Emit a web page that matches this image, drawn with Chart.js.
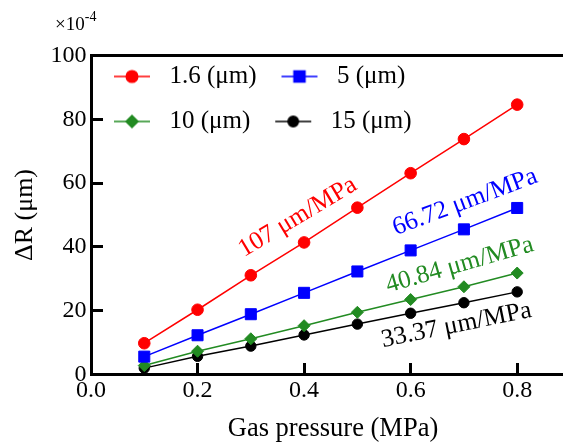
<!DOCTYPE html>
<html><head><meta charset="utf-8">
<script src="https://cdn.jsdelivr.net/npm/chart.js@4/dist/chart.umd.min.js"></script>
<style>html,body{margin:0;padding:0;background:#fff;overflow:hidden}#wrap{width:563px;height:442px;position:relative}canvas{display:block}</style>
</head><body><div id="wrap"><canvas id="c" width="563" height="442" style="width:563px;height:442px"></canvas></div>
<script>
// ---- data ----
const pressure = [0.1, 0.2, 0.3, 0.4, 0.5, 0.6, 0.7, 0.8];
const series1_6 = [9.8, 20.3, 31.1, 41.4, 52.3, 63.1, 73.8, 84.6];
const series5 = [5.6, 12.3, 18.9, 25.6, 32.3, 38.9, 45.5, 52.2];
const series10 = [2.8, 7.3, 11.2, 15.3, 19.5, 23.5, 27.5, 31.8];
const series15 = [2.0, 5.7, 8.9, 12.4, 15.8, 19.2, 22.5, 25.9];
const seriesLabels = ['1.6 (μm)', '5 (μm)', '10 (μm)', '15 (μm)'];
const xTicks = [0, 0.2, 0.4, 0.6, 0.8];
const yTicks = [0, 20, 40, 60, 80, 100];
const slopeTexts = ['107 μm/MPa', '66.72 μm/MPa', '40.84 μm/MPa', '33.37 μm/MPa'];

// ---- styles / layout ----
const FONT = "'Liberation Serif', 'Times New Roman', serif";
const colors = ['#ff0000', '#0000ff', '#228b22', '#000000'];
const pStyles = ['circle', 'rect', 'rectRot', 'circle'];
const pRadii = [5.8, 7.8, 6, 5.2];
const slopeAnchor = [[0.388, 49.3], [0.702, 54.0], [0.692, 34.3], [0.686, 15.4]];
const slopeAngle = [31, 20.5, 16, 11.5];
const X_MAX = 0.886;   // axis range runs past the right edge of the picture
const TICK_LEN = 12, TICK_W = 3;

Chart.defaults.font.family = FONT;
Chart.defaults.color = '#000';

const allSeries = [series1_6, series5, series10, series15];

function makeIcon(i) {
  const cv = document.createElement('canvas');
  cv.width = 48; cv.height = 22;
  const c = cv.getContext('2d');
  c.strokeStyle = colors[i]; c.fillStyle = colors[i]; c.lineWidth = 1.5;
  c.beginPath(); c.moveTo(5, 11); c.lineTo(41, 11); c.stroke();
  Chart.helpers.drawPoint(c, {pointStyle: pStyles[i], radius: pRadii[i], borderWidth: 1, rotation: 0}, 23, 11);
  return cv;
}
const icons = [0, 1, 2, 3].map(makeIcon);

const datasets = allSeries.map((s, i) => ({
  label: seriesLabels[i],
  data: pressure.map((p, k) => ({x: p, y: s[k]})),
  borderColor: colors[i],
  backgroundColor: colors[i],
  borderWidth: 1.5,
  pointStyle: pStyles[i],
  pointRadius: pRadii[i],
  pointBackgroundColor: colors[i],
  pointBorderColor: colors[i],
  pointBorderWidth: 1,
  fill: false,
  tension: 0,
  clip: false,
  xAxisID: 'x', yAxisID: 'y'
}));

// inward tick marks, placed through the library's scales
const innerTicks = {
  id: 'innerTicks',
  afterDraw(chart) {
    const ctx = chart.ctx, area = chart.chartArea;
    const x = chart.scales.x, y = chart.scales.y;
    ctx.save();
    ctx.fillStyle = '#000000';
    xTicks.forEach(v => {
      const px = x.getPixelForValue(v);
      ctx.fillRect(Math.round(px - TICK_W / 2), Math.round(area.bottom - TICK_LEN), TICK_W, TICK_LEN);
    });
    yTicks.forEach(v => {
      const py = y.getPixelForValue(v);
      ctx.fillRect(Math.round(area.left), Math.round(py - TICK_W / 2), TICK_LEN, TICK_W);
    });
    ctx.restore();
  }
};

const slopePlugin = {
  id: 'slopes',
  afterDatasetsDraw(chart) {
    const {ctx} = chart; const x = chart.scales.x, y = chart.scales.y;
    slopeTexts.forEach((t, i) => {
      ctx.save();
      ctx.translate(x.getPixelForValue(slopeAnchor[i][0]), y.getPixelForValue(slopeAnchor[i][1]));
      ctx.rotate(-slopeAngle[i] * Math.PI / 180);
      ctx.font = '25.5px ' + FONT;
      ctx.fillStyle = colors[i];
      ctx.textAlign = 'center'; ctx.textBaseline = 'middle';
      ctx.fillText(t, 0, 0);
      ctx.restore();
    });
  }
};
const expPlugin = {
  id: 'exponent',
  afterDraw(chart) {
    const ctx = chart.ctx;
    ctx.save();
    ctx.fillStyle = '#000'; ctx.textBaseline = 'alphabetic'; ctx.textAlign = 'left';
    ctx.font = '19px ' + FONT;
    ctx.fillText('×10', 55, 30);
    const w = ctx.measureText('×10').width;
    ctx.font = '14px ' + FONT;
    ctx.fillText('-4', 55 + w, 21);
    ctx.restore();
  }
};
const layoutTweaks = {
  id: 'layoutTweaks',
  afterLayout(chart) {
    const lg = chart.legend;
    if (lg) { lg.top = 44; lg.bottom = 150; lg.left = 89; lg.right = 465; }
    // the original plot box continues past the picture's right edge; centre the x title on it
    chart.scales.x.right = 575;
  }
};

const axisGrid = {display: false, drawOnChartArea: false, drawTicks: false};
const axisBorder = {display: true, width: 3, color: '#000'};

new Chart(document.getElementById('c'), {
  type: 'line',
  data: {datasets},
  options: {
    responsive: false, animation: false, devicePixelRatio: 1,
    layout: {autoPadding: false, padding: {top: 55.5, right: 0, bottom: 0, left: 0}},
    plugins: {
      legend: {
        position: 'top', align: 'start', maxHeight: 0.001,
        labels: {
          usePointStyle: true, pointStyleWidth: 48, boxHeight: 25, padding: 20,
          font: {size: 25, family: FONT}, color: '#000',
          generateLabels: (chart) => chart.data.datasets.map((ds, i) => ({
            text: ds.label, pointStyle: icons[i], fillStyle: colors[i], strokeStyle: colors[i],
            lineWidth: 0, hidden: false, datasetIndex: i, fontColor: '#000'
          }))
        }
      },
      title: {display: false},
      tooltip: {enabled: false}
    },
    scales: {
      x: {
        type: 'linear', position: 'bottom', min: 0, max: X_MAX,
        afterBuildTicks: s => { s.ticks = xTicks.map(v => ({value: v})); },
        afterFit: s => { s.height = 67.5; s.paddingLeft = 0; s.paddingRight = 0; },
        ticks: {font: {size: 24}, color: '#000', padding: 2, maxRotation: 0, autoSkip: false, callback: v => Number(v).toFixed(1)},
        grid: axisGrid, border: axisBorder,
        title: {display: true, text: 'Gas pressure (MPa)', font: {size: 26.5, lineHeight: 1}, color: '#000', padding: {top: 0, bottom: 0}}
      },
      x2: {
        type: 'linear', position: 'top', min: 0, max: 1,
        ticks: {display: false}, grid: {display: false, drawTicks: false},
        border: axisBorder,
        afterFit: s => { s.height = 0; s.paddingLeft = 0; s.paddingRight = 0; }
      },
      y: {
        type: 'linear', position: 'left', min: 0, max: 100,
        afterBuildTicks: s => { s.ticks = yTicks.map(v => ({value: v})); },
        afterFit: s => { s.width = 91; },
        ticks: {font: {size: 24}, color: '#000', padding: 4.5, autoSkip: false, callback: v => String(v)},
        grid: axisGrid, border: axisBorder,
        title: {display: true, text: 'ΔR (μm)', font: {size: 26, lineHeight: 1}, color: '#000', padding: {top: 12, bottom: 0}}
      }
    }
  },
  plugins: [innerTicks, slopePlugin, expPlugin, layoutTweaks]
});
</script></body></html>
